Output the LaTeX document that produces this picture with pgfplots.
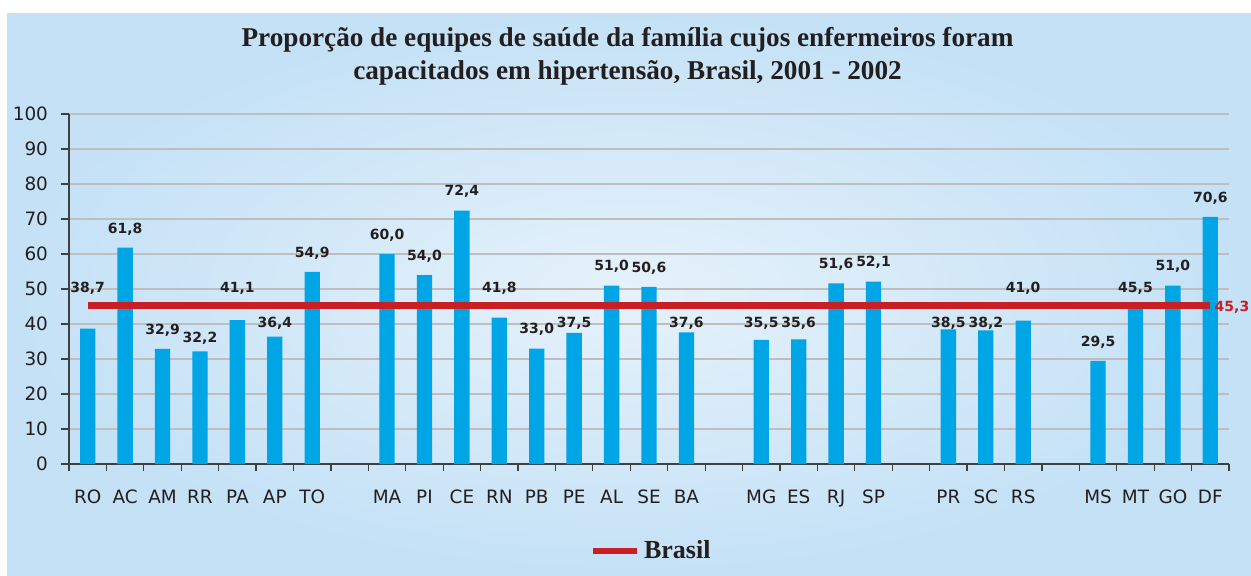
\documentclass[border=0pt]{standalone}
\usepackage{pgfplots}
\pgfplotsset{compat=1.18}
\usepackage{pgfplotstable}
\usepackage{fontspec}
\setmainfont{Liberation Serif}
\newfontfamily\dejavu{DejaVu Sans}
\definecolor{barblue}{RGB}{0,165,230}
\definecolor{brred}{RGB}{200,30,36}
\definecolor{txt}{RGB}{35,31,32}
\definecolor{bgout}{RGB}{196,225,246}
\definecolor{bgin}{RGB}{230,242,251}
\definecolor{gridc}{RGB}{190,190,190}
\definecolor{axc}{RGB}{64,64,64}

\pgfplotstableread{
x  v     ly
0  38.7  50.3
1  61.8  67.2
2  32.9  38.3
3  32.2  35.8
4  41.1  50.3
5  36.4  40.3
6  54.9  60.3
8  60.0  65.4
9  54.0  59.4
10 72.4  77.8
11 41.8  50.3
12 33.0  38.4
13 37.5  40.3
14 51.0  56.4
15 50.6  56.0
16 37.6  40.3
18 35.5  40.3
19 35.6  40.3
20 51.6  57.0
21 52.1  57.5
23 38.5  40.3
24 38.2  40.3
25 41.0  50.3
27 29.5  34.9
28 45.5  50.3
29 51.0  56.4
30 70.6  75.8
}\datatable

\begin{document}
\begin{tikzpicture}[x=1pt,y=1pt]
\path[use as bounding box] (0,0) rectangle (625.5,287.5);
\fill[white] (0,0) rectangle (625.5,287.5);
\shade[inner color=bgin, outer color=bgout] (3.5,0) rectangle (625.5,281);
\node[font=\fontsize{13.6}{16.5}\selectfont\bfseries, text=txt, align=center] at (313.75,259.25)
  {Proporção de equipes de saúde da família cujos enfermeiros foram\\capacitados em hipertensão, Brasil, 2001 - 2002};
\begin{axis}[
  at={(34.5pt,55.5pt)}, anchor=south west,
  width=580pt, height=175pt, scale only axis,
  xmin=-0.5, xmax=30.5, ymin=0, ymax=100,
  axis x line*=bottom, axis y line*=left,
  axis line style={axc, line width=0.6pt},
  /pgf/number format/assume math mode=true,
  ytick={0,10,...,100},
  ymajorgrids, major grid style={gridc, line width=0.6pt},
  xtick={0,1,2,3,4,5,6,8,9,10,11,12,13,14,15,16,18,19,20,21,23,24,25,27,28,29,30},
  xticklabels={RO,AC,AM,RR,PA,AP,TO,MA,PI,CE,RN,PB,PE,AL,SE,BA,MG,ES,RJ,SP,PR,SC,RS,MS,MT,GO,DF},
  minor xtick={-0.5,0.5,...,30.5},
  tick align=outside, tick pos=left,
  major tick length=4pt, minor tick length=3.5pt,
  xtick style={draw=none},
  minor x tick style={draw=axc, line width=0.6pt},
  ytick style={axc, line width=0.6pt},
  ticklabel style={font=\dejavu\fontsize{9.2}{10}\selectfont, text=txt},
  xticklabel style={yshift=-5.5pt},
  yticklabel style={xshift=-3pt},
  clip=false,
  legend style={at={(rel axis cs:0.5026,-0.249)}, anchor=center, draw=none, fill=none,
    font=\fontsize{13}{15}\selectfont\bfseries, text=txt},
  legend image code/.code={\draw[#1] (0pt,0pt) -- (22pt,0pt);},
]
\addplot[ybar, bar width=0.41, fill=barblue, draw=none, forget plot] table[x=x, y=v] {\datatable};
\addplot[brred, line width=3.3pt] coordinates {(0,45.3) (30,45.3)};
\addlegendentry{Brasil}
\addplot[draw=none, forget plot, nodes near coords={\pgfmathprintnumber[fixed, fixed zerofill, precision=1, use comma]{\pgfplotspointmeta}},
  nodes near coords align=center, point meta=explicit,
  every node near coord/.append style={font=\dejavu\bfseries\fontsize{7}{8}\selectfont, text=txt, anchor=center}]
  table[x=x, y=ly, meta=v] {\datatable};
\node[anchor=west, font=\dejavu\bfseries\fontsize{7}{8}\selectfont, text=brred, inner sep=0pt] at (axis cs:30,45.3) [xshift=2pt, yshift=-1pt] {45,3};
\end{axis}
\end{tikzpicture}
\end{document}
